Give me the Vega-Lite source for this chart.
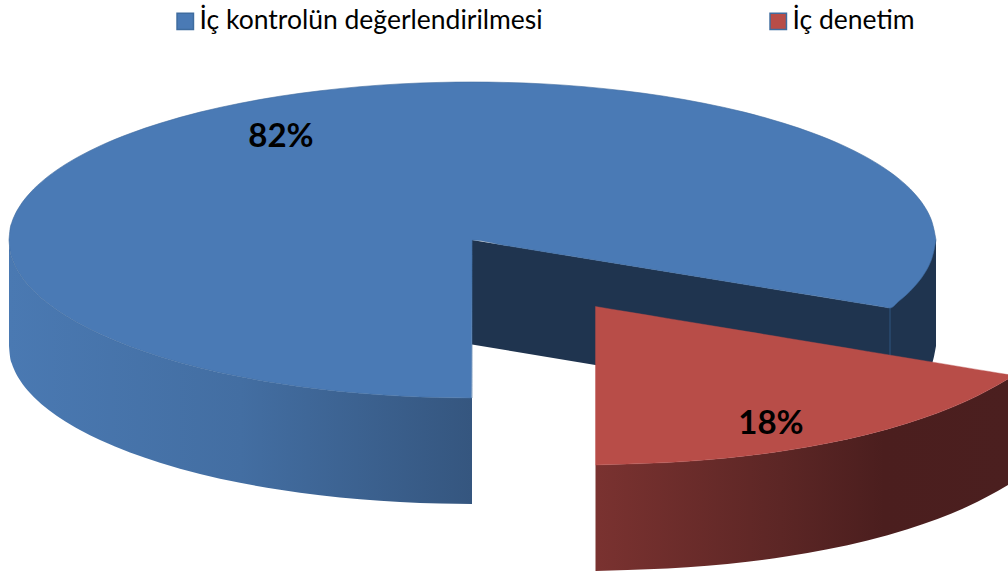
{"$schema":"https://vega.github.io/schema/vega-lite/v6.json","width":1008,"height":576,"padding":0,"autosize":{"type":"none"},"background":"white","config":{"view":{"stroke":null},"font":"Lato"},
"datasets":{
"shares":[{"category":"İç kontrolün değerlendirilmesi","share":"82%","x":281,"y":137},{"category":"İç denetim","share":"18%","x":771,"y":424}],
"rim":[{"x":890,"y":240,"y2":414},{"x":899,"y":240,"y2":407.1},{"x":914,"y":240,"y2":393},{"x":924,"y":240,"y2":380.2},{"x":929,"y":240,"y2":371.4},{"x":932,"y":240,"y2":364},{"x":934,"y":240,"y2":356.4},{"x":936,"y":240,"y2":346}],
"wall":[{"x":472,"y":240,"y2":344.5},{"x":890,"y":308,"y2":414}],
"seam":[{"x":890,"y":308,"y2":414}],
"blueSide":[{"x":9,"y":240,"y2":346},{"x":10,"y":250.4,"y2":356.4},{"x":12,"y":258,"y2":364},{"x":15,"y":265.4,"y2":371.4},{"x":20,"y":274.2,"y2":380.2},{"x":30,"y":287,"y2":393},{"x":45,"y":301.1,"y2":407.1},{"x":60,"y":312.1,"y2":418.1},{"x":80,"y":324.1,"y2":430.1},{"x":100,"y":334.1,"y2":440.1},{"x":130,"y":346.5,"y2":452.5},{"x":160,"y":356.7,"y2":462.7},{"x":200,"y":367.9,"y2":473.9},{"x":240,"y":376.7,"y2":482.7},{"x":280,"y":383.8,"y2":489.8},{"x":320,"y":389.2,"y2":495.2},{"x":360,"y":393.3,"y2":499.3},{"x":400,"y":396.1,"y2":502.1},{"x":440,"y":397.6,"y2":503.6},{"x":472,"y":398,"y2":504}],
"blueTop":[{"x":9,"y":240,"y2":240},{"x":10,"y":229.6,"y2":250.4},{"x":12,"y":222,"y2":258},{"x":15,"y":214.6,"y2":265.4},{"x":20,"y":205.8,"y2":274.2},{"x":30,"y":193,"y2":287},{"x":45,"y":178.9,"y2":301.1},{"x":60,"y":167.9,"y2":312.1},{"x":80,"y":155.9,"y2":324.1},{"x":100,"y":145.9,"y2":334.1},{"x":130,"y":133.5,"y2":346.5},{"x":160,"y":123.3,"y2":356.7},{"x":200,"y":112.1,"y2":367.9},{"x":240,"y":103.3,"y2":376.7},{"x":280,"y":96.2,"y2":383.8},{"x":320,"y":90.8,"y2":389.2},{"x":360,"y":86.7,"y2":393.3},{"x":400,"y":83.9,"y2":396.1},{"x":440,"y":82.4,"y2":397.6},{"x":472,"y":82,"y2":398},{"x":472.1,"y":82,"y2":240},{"x":504,"y":82.4,"y2":245.2},{"x":544,"y":83.9,"y2":251.7},{"x":584,"y":86.7,"y2":258.2},{"x":624,"y":90.8,"y2":264.7},{"x":664,"y":96.2,"y2":271.2},{"x":704,"y":103.3,"y2":277.7},{"x":744,"y":112.1,"y2":284.3},{"x":784,"y":123.3,"y2":290.8},{"x":814,"y":133.5,"y2":295.6},{"x":844,"y":145.9,"y2":300.5},{"x":864,"y":155.9,"y2":303.8},{"x":884,"y":167.9,"y2":307},{"x":890,"y":172.1,"y2":308},{"x":899,"y":178.9,"y2":301.1},{"x":914,"y":193,"y2":287},{"x":924,"y":205.8,"y2":274.2},{"x":929,"y":214.6,"y2":265.4},{"x":932,"y":222,"y2":258},{"x":934,"y":229.6,"y2":250.4},{"x":936,"y":240,"y2":240}],
"redSide":[{"x":595.5,"y":465,"y2":571},{"x":627.5,"y":464.1,"y2":570.1},{"x":667.5,"y":462.6,"y2":568.6},{"x":707.5,"y":459.8,"y2":565.8},{"x":747.5,"y":455.7,"y2":561.7},{"x":787.5,"y":450.3,"y2":556.3},{"x":827.5,"y":443.2,"y2":549.2},{"x":867.5,"y":434.4,"y2":540.4},{"x":907.5,"y":423.2,"y2":529.2},{"x":937.5,"y":413,"y2":519},{"x":967.5,"y":400.6,"y2":506.6},{"x":987.5,"y":390.6,"y2":496.6},{"x":1008,"y":379,"y2":485}],
"redTop":[{"x":595.5,"y":306.5,"y2":465},{"x":627.5,"y":311.8,"y2":464.1},{"x":667.5,"y":318.4,"y2":462.6},{"x":707.5,"y":325,"y2":459.8},{"x":747.5,"y":331.6,"y2":455.7},{"x":787.5,"y":338.2,"y2":450.3},{"x":827.5,"y":344.8,"y2":443.2},{"x":867.5,"y":351.4,"y2":434.4},{"x":907.5,"y":358,"y2":423.2},{"x":937.5,"y":362.9,"y2":413},{"x":967.5,"y":367.9,"y2":400.6},{"x":987.5,"y":371.2,"y2":390.6},{"x":1008,"y":374.6,"y2":379}]
},
"encoding":{
"x":{"field":"x","type":"quantitative","axis":null,"scale":{"domain":[0,1008],"range":[0,1008]}},
"y":{"field":"y","type":"quantitative","axis":null,"scale":{"domain":[0,576],"range":[0,576]}},
"y2":{"field":"y2"}
},
"layer":[
{"data":{"name":"rim"},"mark":{"type":"area","fill":"#1f344f","interpolate":"monotone"}},
{"data":{"name":"wall"},"mark":{"type":"area","fill":"#1f344f"}},
{"data":{"name":"seam"},"mark":{"type":"rule","stroke":"#2f5580","strokeWidth":1}},
{"data":{"name":"blueSide"},"mark":{"type":"area","interpolate":"monotone","fill":{"gradient":"linear","x1":0,"x2":1,"y1":0,"y2":0,"stops":[{"offset":0,"color":"#4a79b2"},{"offset":0.5,"color":"#436ea2"},{"offset":1,"color":"#35567f"}]}}},
{"data":{"name":"blueTop"},"mark":{"type":"area","stroke":"#3f6c9f","strokeWidth":0.6,"interpolate":"monotone"},"encoding":{"color":{"datum":"İç kontrolün değerlendirilmesi","scale":{"domain":["İç kontrolün değerlendirilmesi","İç denetim"],"range":["#4a7ab5","#b84d48"]},"legend":{"title":null,"orient":"none","legendX":172,"legendY":8,"direction":"horizontal","columns":2,"symbolType":"square","symbolSize":270,"symbolStrokeWidth":1.5,"symbolOpacity":1,"labelFont":"Lato","labelFontSize":26.5,"labelColor":"black","labelOffset":1,"labelLimit":500,"columnPadding":222,"encode":{"symbols":{"update":{"stroke":{"signal":"datum.value==='İç denetim'?'#a0504e':'#3f679a'"},"fill":{"signal":"datum.value==='İç denetim'?'#c0504d':'#4f81bd'"}}}}}}}},
{"data":{"name":"redSide"},"mark":{"type":"area","interpolate":"monotone","fill":{"gradient":"linear","x1":0,"x2":1,"y1":0,"y2":0,"stops":[{"offset":0,"color":"#7a3230"},{"offset":0.45,"color":"#5c2625"},{"offset":0.7,"color":"#4b1e1e"},{"offset":1,"color":"#4b1f1f"}]}}},
{"data":{"name":"redTop"},"mark":{"type":"area","stroke":"#b84d48","strokeWidth":0.4,"interpolate":"monotone"},"encoding":{"color":{"datum":"İç denetim"}}},
{"data":{"name":"shares"},"mark":{"type":"text","font":"Lato","fontSize":33,"fontWeight":"bold","color":"black","align":"center","baseline":"middle"},"encoding":{"y2":null,"text":{"field":"share"}}}
]
}
